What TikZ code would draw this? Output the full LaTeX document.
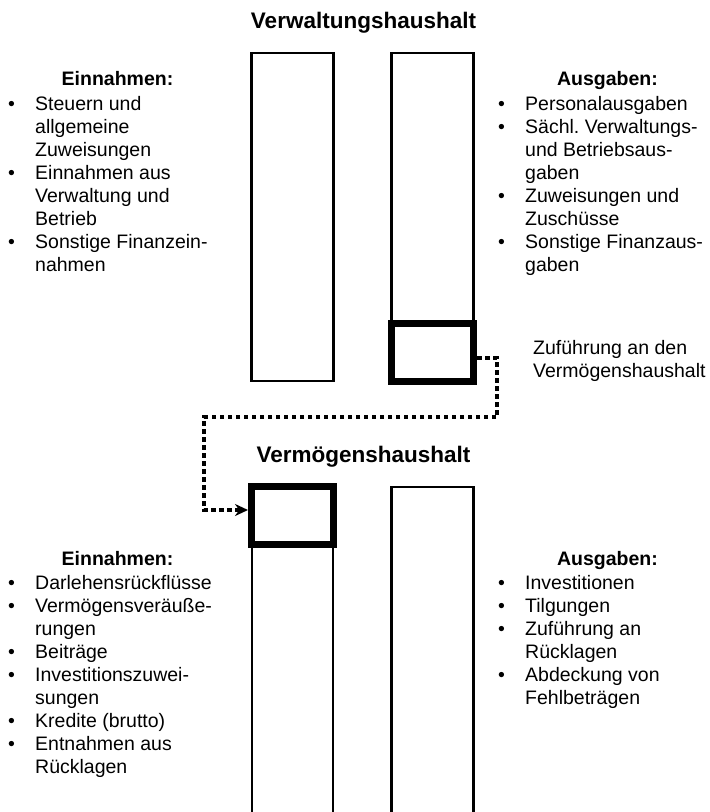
\documentclass[tikz,border=0pt]{standalone}
\usepackage{fontspec}
\setmainfont{Liberation Sans}
\usetikzlibrary{arrows.meta}
\frenchspacing
% bullet and hanging indent for the item lists
\newcommand\bulletbox{\makebox[27pt][l]{\textbullet}}
\newcommand\hangbox{\hspace*{27pt}}
\begin{document}
\begin{tikzpicture}[x=1pt,y=-1pt,
  bar/.style={draw=black,line width=2.6pt},
  heavybox/.style={draw=black,line width=7pt,fill=white,minimum width=82pt,minimum height=58pt,inner sep=0pt},
  title/.style={font=\fontsize{22.5}{27}\selectfont\bfseries,inner sep=0pt,anchor=base},
  head/.style={font=\fontsize{19.5}{23.1}\selectfont\bfseries,inner sep=0pt,anchor=base},
  % multi-line lists are placed by the baseline of their last line
  items/.style={font=\fontsize{19.5}{23.1}\selectfont,align=left,inner sep=0pt,anchor=base west},
  flow/.style={line width=4pt,dash pattern=on 4.5pt off 3.5pt,-{Stealth[length=13pt,width=12pt]}}]
\useasboundingbox (0,0) rectangle (710,812);

% ---- Verwaltungshaushalt ----
\node[title] (vwh) at (363.5,28) {Verwaltungshaushalt};
\draw[bar] (251.5,53) rectangle (333.5,381);
\draw[bar] (391.5,53) rectangle (473.5,352);
\node[heavybox] (zuf) at (432.5,352) {};

\node[head] (vwein) at (117.5,85) {Einnahmen:};
\node[items] (vweinl) at (8,271.7) {\bulletbox Steuern und\\\hangbox allgemeine\\\hangbox Zuweisungen\\
  \bulletbox Einnahmen aus\\\hangbox Verwaltung und\\\hangbox Betrieb\\
  \bulletbox Sonstige Finanzein-\\\hangbox nahmen};

\node[head] (vwaus) at (607.5,85) {Ausgaben:};
\node[items] (vwausl) at (498,271.7) {\bulletbox Personalausgaben\\
  \bulletbox Sächl. Verwaltungs-\\\hangbox und Betriebsaus-\\\hangbox gaben\\
  \bulletbox Zuweisungen und\\\hangbox Zuschüsse\\
  \bulletbox Sonstige Finanzaus-\\\hangbox gaben};

\node[items] (zuftext) at (533,377.1) {Zuführung an den\\Vermögenshaushalt};

% ---- Vermögenshaushalt ----
\node[title] (vmh) at (363.5,462) {Vermögenshaushalt};
\draw[bar] (252,812) -- (252,486) -- (333,486) -- (333,812);
\draw[bar] (391.5,812) -- (391.5,487) -- (473.5,487) -- (473.5,812);
\node[heavybox] (eing) at (292.5,515.5) {};

\node[head] (vmein) at (117.5,565) {Einnahmen:};
\node[items] (vmeinl) at (8,773.8) {\bulletbox Darlehensrückflüsse\\
  \bulletbox Vermögensveräuße-\\\hangbox rungen\\
  \bulletbox Beiträge\\
  \bulletbox Investitionszuwei-\\\hangbox sungen\\
  \bulletbox Kredite (brutto)\\
  \bulletbox Entnahmen aus\\\hangbox Rücklagen};

\node[head] (vmaus) at (607.5,565) {Ausgaben:};
\node[items] (vmausl) at (498,704.5) {\bulletbox Investitionen\\
  \bulletbox Tilgungen\\
  \bulletbox Zuführung an\\\hangbox Rücklagen\\
  \bulletbox Abdeckung von\\\hangbox Fehlbeträgen};

% ---- transfer from the administrative to the capital budget ----
\coordinate (t1) at (497,358);
\coordinate (t2) at (497,417);
\coordinate (t3) at (204,417);
\coordinate (t4) at (204,510);
\draw[flow] ([yshift=-6pt]zuf.east) -- (t1) -- (t2) -- (t3) -- (t4) -- (t4 -| eing.west);
\end{tikzpicture}
\end{document}
